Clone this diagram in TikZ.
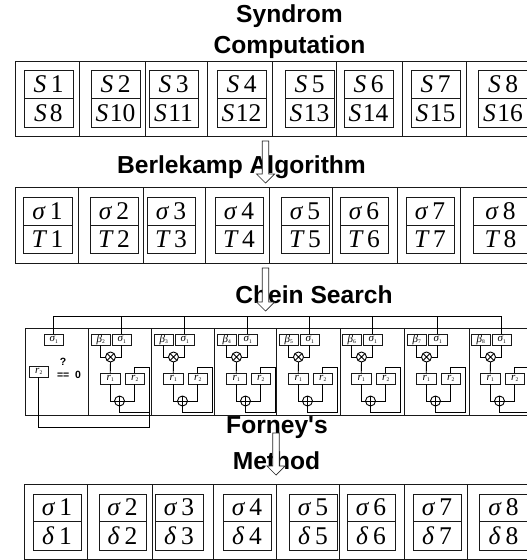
\documentclass[tikz,border=0pt]{standalone}
\usepackage{fontspec}
\setmainfont{Liberation Serif}
\newfontfamily\labelfont{Liberation Sans}
\tikzset{
  x=1pt,y=-1pt,
  titletext/.style={font=\labelfont\bfseries\fontsize{24.6}{28}\selectfont,inner sep=0pt,align=center},
  cellbox/.style={draw=black!90,line width=1pt,anchor=north west,inner sep=0pt,outer sep=0pt},
  valbox/.style={draw=black!90,line width=1pt,anchor=north west,inner sep=0pt,outer sep=0pt,font=\fontsize{25.5}{27}\selectfont\itshape},
  regbox/.style={draw=black!90,line width=1pt,anchor=north west,inner sep=0pt,outer sep=0pt,minimum width=19.5pt,minimum height=11pt,font=\fontsize{11}{11}\selectfont\itshape},
  wire/.style={draw=black,line width=0.9pt},
  opcircle/.style={circle,draw=black,line width=0.9pt,minimum size=10pt,inner sep=0pt,outer sep=0pt},
  blockarrow/.style={draw=black!85,fill=white,line width=0.7pt,line join=miter},
  notetext/.style={inner sep=0pt,font=\labelfont\bfseries\fontsize{10.5}{11}\selectfont},
}
\newcommand{\subs}[2]{#1{\fontsize{5.5}{5.5}\selectfont\raisebox{-1.5pt}{\upshape #2}}}
\newcommand{\cellrow}[4]{% prefix, top, height, cell x list
  \foreach \xa/\xb [count=\i] in {#4} {
    \node[cellbox,minimum width=\xb pt-\xa pt,minimum height=#3pt] (#1c\i) at (\xa,#2) {};
  }
}
\newcommand{\vals}[8]{%
  \node[valbox,minimum width=#3pt-#2pt,minimum height=#5pt-#4pt] (#1t) at (#2,#4) {#7};
  \node[valbox,minimum width=#3pt-#2pt,minimum height=#6pt-#5pt] (#1b) at (#2,#5) {#8};
}
% centre x, top of shaft, base of head, tip
\newcommand{\flowarrow}[4]{%
  \draw[blockarrow] (#1-3.2,#2) -- (#1+3.2,#2) -- (#1+3.2,#3) -- (#1+9,#3) -- (#1,#4) -- (#1-9,#3) -- (#1-3.2,#3) -- cycle;
}
\begin{document}
\begin{tikzpicture}
\useasboundingbox (0,0) rectangle (527,560);
\clip (0,0) rectangle (527,560);
\fill[white] (0,0) rectangle (527,560);

% titles
\node[titletext] (t1) at (289.5,16) {Syndrom};
\node[titletext] (t1b) at (289.5,47) {Computation};
\node[titletext] (t2) at (241.5,167) {Berlekamp Algorithm};
\node[titletext] (t3) at (314,295) {Chein Search};
\node[titletext] (t4) at (277,428) {Forney's};
\node[titletext] (t4b) at (276.5,461) {Method};

% row 1
\cellrow{a}{61}{75}{15/79,79/145,145/207,207/272,272/336,336/402,402/466,466/540}
\foreach \n/\xa/\xb/\p/\q/\g in {1/24/73/1/8/3,2/91/140/2/10/1.5,3/149/198/3/11/1.5,4/217/266/4/12/1.5,5/285/334/5/13/1.5,6/344/393/6/14/1.5,7/411/460/7/15/1.5,8/478/528/8/16/1.5}{
  \vals{as\n}{\xa}{\xb}{70}{98.5}{127}{S\hspace{4.5pt}{\upshape\p}}{S\hspace{\g pt}{\upshape\q}}
}
% row 2
\cellrow{b}{187}{76}{15/78,78/143,143/205,205/269,269/332,332/397,397/460,460/540}
\foreach \n/\xa/\xb in {1/23/72,2/90/138,3/147/195,4/215/263,5/281/329,6/340/388,7/406/454,8/473/528}{
  \vals{bs\n}{\xa}{\xb}{197}{225}{253}{σ\hspace{5pt}{\upshape\n}}{T\hspace{5pt}{\upshape\n}}
}
% row 4
\cellrow{d}{484}{75}{24/87,87/152,152/213,213/276,276/339,339/404,404/467,467/540}
\foreach \n/\xa/\xb in {1/33/81,2/99/146,3/155/203,4/223/271,5/289/337,6/347/395,7/413/461,8/479/528}{
  \vals{ds\n}{\xa}{\xb}{494}{521}{550}{σ\hspace{5pt}{\upshape\n}}{δ\hspace{5pt}{\upshape\n}}
}
% row 3
\cellrow{c}{328}{87}{25/88,88/151,151/214,214/276,276/340,340/404,404/469,469/532}
\node[regbox] (s0) at (44,334) {\subs{σ}{1}};
\node[regbox] (r0) at (29,366) {\subs{r}{2}};
\node[notetext] (qm) at (63,362) {?};
\node[notetext] (eq) at (69,375) {==\ \ 0};
\coordinate (busL) at (53.75,316);
\draw[wire] (s0.north) -- (busL);
\foreach \n/\x in {2/91,3/154,4/217,5/279,6/342,7/407,8/471}{
  \node[regbox] (b\n) at (\x,334) {\subs{β}{\n}};
  \node[regbox] (s\n) at (\x+21,334) {\subs{σ}{1}};
  \node[regbox] (ra\n) at (\x+9.5,373) {\subs{r}{1}};
  \node[regbox] (rb\n) at (\x+34,373) {\subs{r}{2}};
  \node[opcircle] (m\n) at (\x+19.5,357) {};
  \node[opcircle] (p\n) at (\x+28.5,401) {};
  \draw[wire] (m\n.north west) -- (m\n.south east) (m\n.north east) -- (m\n.south west);
  \draw[wire] (p\n.north) -- (p\n.south) (p\n.west) -- (p\n.east);
  \draw[wire] (b\n.south) |- (m\n.west);
  \draw[wire] (s\n.south) |- (m\n.east);
  \draw[wire] (m\n.south) -- (ra\n.north);
  \draw[wire] (ra\n.south) |- (p\n.west);
  \draw[wire] (rb\n.south) |- (p\n.east);
  \coordinate (ta\n) at (\x+58,367);
  \coordinate (tb\n) at (\x+58,412);
  \coordinate (tc\n) at (\x+28.5,412);
  \draw[wire] (p\n.south) -- (tc\n) -- (tb\n) -- (ta\n) -- (ta\n-|rb\n) -- (rb\n.north);
  \coordinate (bus\n) at (\x+30.75,316);
  \draw[wire] (s\n.north) -- (bus\n);
}
\draw[wire] (busL) -- (bus8);
\coordinate (fbA) at (38.75,427);
\coordinate (fbB) at (149,427);
\coordinate (fbC) at (149,412);
\draw[wire] (r0.south) -- (fbA) -- (fbB) -- (fbC);

% arrows
\flowarrow{265.5}{141}{174}{183}
\flowarrow{265.5}{268}{302}{311}
\flowarrow{276}{433}{466}{475}
\end{tikzpicture}
\end{document}
